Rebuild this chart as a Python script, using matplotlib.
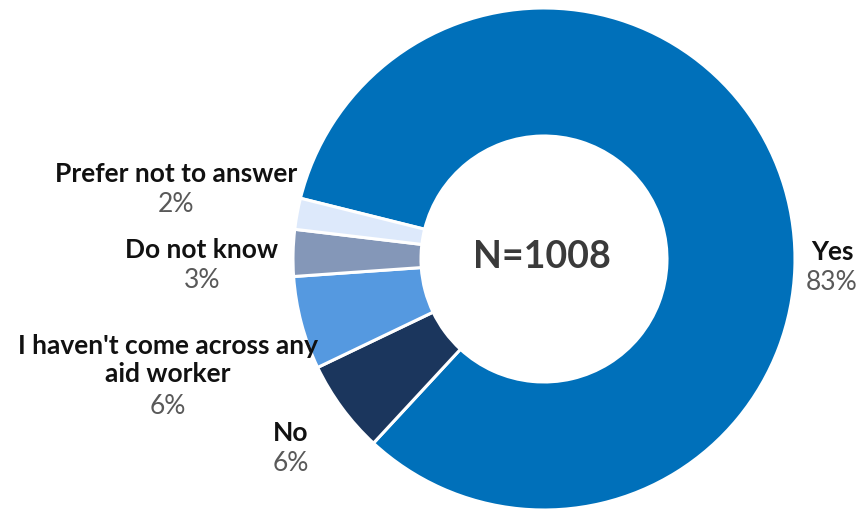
import matplotlib
matplotlib.use("Agg")
import matplotlib.pyplot as plt

# Survey responses (percent of respondents), clockwise from "Yes"
categories = ["Yes", "No", "I haven't come across any\naid worker", "Do not know", "Prefer not to answer"]
values = [83, 6, 6, 3, 2]
colors = ["#0070BA", "#1B365D", "#5599E0", "#8497B8", "#DDE9FB"]
center_text = "N=1008"

W, H = 862, 510
fig = plt.figure(figsize=(W / 100, H / 100), dpi=100)
ax = fig.add_axes([0, 0, 1, 1])
ax.set_xlim(0, W)
ax.set_ylim(0, H)
ax.set_aspect("equal")
ax.axis("off")

cx, cy, r = 544, H - 260, 251
ax.pie(values, colors=colors, startangle=166, counterclock=False,
       center=(cx, cy), radius=r,
       wedgeprops=dict(width=r * 0.51, edgecolor="white", linewidth=2.2))
ax.set_xlim(0, W)
ax.set_ylim(0, H)

font = "Lato"
ax.text(cx - 2, cy + 3, center_text, ha="center", va="center",
        fontsize=27, fontweight="bold", color="#3A3A3A", family=font)

# top-line centre of each category name, in figure pixels from top-left
label_pos = [(832, 252), (291, 433), (168, 345), (202, 250), (176, 174)]
line_step = 31
for cat, val, (lx, ly) in zip(categories, values, label_pos):
    nlines = cat.count("\n") + 1
    mid = ly + line_step * (nlines - 1) / 2
    ax.text(lx, H - mid, cat, ha="center", va="center", fontsize=19,
            fontweight="bold", color="#111111", family=font, linespacing=1.2)
    ax.text(lx, H - (ly + line_step * nlines), f"{val}%", ha="center", va="center",
            fontsize=19, color="#595959", family=font)

fig.savefig("out.png", dpi=100)
